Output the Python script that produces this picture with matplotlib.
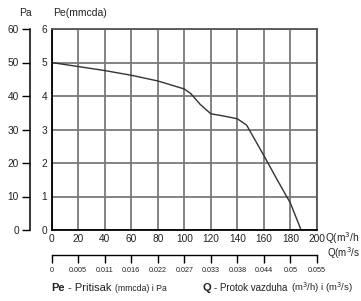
import matplotlib
matplotlib.use("Agg")
import matplotlib.pyplot as plt

plt.rcParams['font.family'] = ['Liberation Sans', 'DejaVu Sans']

# curve: Q (m3/h) vs Pe (mmcda)
q_flow = [0, 20, 40, 60, 80, 100, 105, 112, 120, 130, 140, 147, 160, 170, 180, 188]
pe_press = [5.0, 4.88, 4.76, 4.62, 4.45, 4.21, 4.07, 3.75, 3.47, 3.40, 3.32, 3.13, 2.22, 1.5, 0.8, 0.0]

q_ticks = [0, 20, 40, 60, 80, 100, 120, 140, 160, 180, 200]
pe_ticks = [0, 1, 2, 3, 4, 5, 6]
pa_ticks = [0, 10, 20, 30, 40, 50, 60]
qs_labels = ['0', '0.005', '0.011', '0.016', '0.022', '0.027', '0.033', '0.038', '0.044', '0.05', '0.055']

W, H = 361, 301
fig = plt.figure(figsize=(W / 100, H / 100), dpi=100)
txt = '#222222'

def fx(px):
    return px / W

def fy(py):
    return 1 - py / H

x0, x1, y_top, y_bot = 51.5, 317, 29, 230

# main chart
ax = fig.add_axes([fx(x0), fy(y_bot), fx(x1) - fx(x0), fy(y_top) - fy(y_bot)])
ax.plot(q_flow, pe_press, color='#333333', lw=1.0)
ax.set_xlim(0, 200)
ax.set_ylim(0, 6)
ax.set_xticks(q_ticks)
ax.set_yticks(pe_ticks)
ax.tick_params(length=0, labelsize=7.3, pad=3, colors=txt)
ax.grid(True, color='#7a7a7a', lw=1.3)
for s in ['top', 'right']:
    ax.spines[s].set_color('#555555')
    ax.spines[s].set_linewidth(1.3)
for s in ['left', 'bottom']:
    ax.spines[s].set_color('black')
    ax.spines[s].set_linewidth(1.3)

# Pa axis on the left
ax_pa = fig.add_axes([fx(30), fy(y_bot), 0.001, fy(y_top) - fy(y_bot)])
ax_pa.set_ylim(0, 60)
ax_pa.set_yticks(pa_ticks)
ax_pa.set_xticks([])
for s in ['top', 'right', 'bottom']:
    ax_pa.spines[s].set_visible(False)
ax_pa.spines['left'].set_linewidth(1.1)
ax_pa.patch.set_visible(False)
ax_pa.tick_params(axis='y', length=6, width=1.0, pad=2, labelsize=7.3, labelcolor=txt, color='black')

# second flow axis in m3/s
ax_qs = fig.add_axes([fx(x0), fy(255), fx(x1) - fx(x0), 0.001])
ax_qs.set_xlim(0, 200)
ax_qs.set_xticks(q_ticks)
ax_qs.set_xticklabels(qs_labels)
ax_qs.set_yticks([])
for s in ['top', 'right', 'left']:
    ax_qs.spines[s].set_visible(False)
ax_qs.spines['bottom'].set_linewidth(1.0)
ax_qs.patch.set_visible(False)
ax_qs.tick_params(axis='x', length=6, width=1.0, pad=3, labelsize=5.2, labelcolor=txt)

# axis titles
fig.text(fx(25), fy(13), 'Pa', fontsize=7.5, ha='center', va='center', color=txt)
fig.text(fx(53), fy(13), 'Pe(mmcda)', fontsize=7.5, ha='left', va='center', color=txt)
fig.text(fx(325), fy(238), 'Q(m$^3$/h', fontsize=7.3, ha='left', va='center', color=txt)
fig.text(fx(327), fy(253), 'Q(m$^3$/s', fontsize=7.0, ha='left', va='center', color=txt)

# caption, pieces placed one after another
renderer = fig.canvas.get_renderer()

def caption(x_px, pieces):
    x = fx(x_px)
    for s, size, weight in pieces:
        t = fig.text(x, fy(291), s, fontsize=size, fontweight=weight,
                     ha='left', va='baseline', color=txt)
        bb = t.get_window_extent(renderer)
        x = (bb.x1 + 3) / W

caption(51.5, [('Pe', 8, 'bold'), ('- Pritisak', 8, 'normal'), ('(mmcda) i Pa', 6.2, 'normal')])
caption(202.5, [('Q', 8, 'bold'), ('- Protok vazduha', 7, 'normal'), ('(m$^3$/h) i (m$^3$/s)', 6.8, 'normal')])

fig.savefig('out.png', dpi=100)
